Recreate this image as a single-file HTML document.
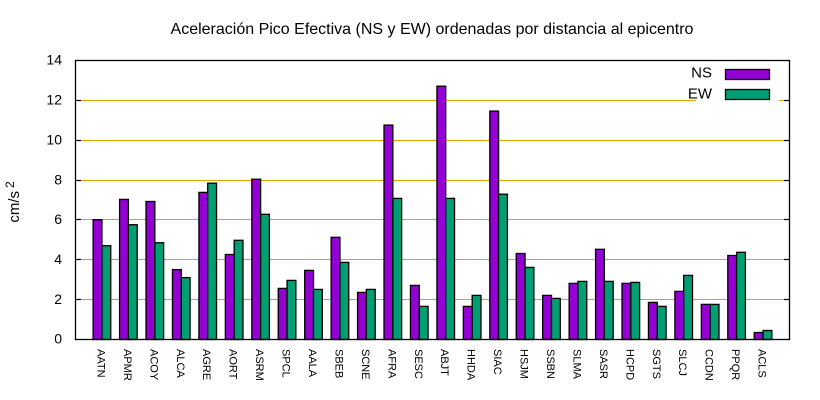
<!DOCTYPE html>
<html>
<head>
<meta charset="utf-8">
<style>
  html, body { margin: 0; padding: 0; background: #ffffff; }
  svg { display: block; }
  text { font-family: "Liberation Sans", Arial, sans-serif; fill: #000; }
</style>
</head>
<body>
<svg width="820" height="400" viewBox="0 0 820 400" xmlns="http://www.w3.org/2000/svg">
  <rect x="0" y="0" width="820" height="400" fill="#ffffff"/>

  <!-- Title -->
  <text x="432" y="34" font-size="16" text-anchor="middle">Aceleración Pico Efectiva (NS y EW) ordenadas por distancia al epicentro</text>

  <!-- Gridlines -->
  <g stroke="#e69f00" stroke-width="1">
    <line x1="75.5" y1="299.5" x2="789.5" y2="299.5"/>
    <line x1="75.5" y1="259.5" x2="789.5" y2="259.5"/>
    <line x1="75.5" y1="219.5" x2="789.5" y2="219.5"/>
    <line x1="75.5" y1="180.5" x2="789.5" y2="180.5"/>
    <line x1="75.5" y1="140.5" x2="789.5" y2="140.5"/>
    <line x1="75.5" y1="100.5" x2="789.5" y2="100.5"/>
  </g>

  <!-- Bars -->
  <g stroke="#000" stroke-width="1.3">
    <!-- AATN -->
    <rect x="93.13" y="219.7" width="8.81" height="119.8" fill="#9400d3"/>
    <rect x="101.94" y="245.7" width="8.81" height="93.8" fill="#009e73"/>
    <!-- APMR -->
    <rect x="119.58" y="199.4" width="8.81" height="140.1" fill="#9400d3"/>
    <rect x="128.39" y="224.7" width="8.81" height="114.8" fill="#009e73"/>
    <!-- ACOY -->
    <rect x="146.02" y="201.5" width="8.81" height="138.0" fill="#9400d3"/>
    <rect x="154.83" y="242.7" width="8.81" height="96.8" fill="#009e73"/>
    <!-- ALCA -->
    <rect x="172.47" y="269.6" width="8.81" height="69.9" fill="#9400d3"/>
    <rect x="181.28" y="277.6" width="8.81" height="61.9" fill="#009e73"/>
    <!-- AGRE -->
    <rect x="198.91" y="192.4" width="8.81" height="147.1" fill="#9400d3"/>
    <rect x="207.72" y="183.2" width="8.81" height="156.3" fill="#009e73"/>
    <!-- AORT -->
    <rect x="225.35" y="254.5" width="8.81" height="85.0" fill="#9400d3"/>
    <rect x="234.16" y="240.3" width="8.81" height="99.2" fill="#009e73"/>
    <!-- ASRM -->
    <rect x="251.80" y="179.2" width="8.81" height="160.3" fill="#9400d3"/>
    <rect x="260.61" y="214.3" width="8.81" height="125.2" fill="#009e73"/>
    <!-- SPCL -->
    <rect x="278.24" y="288.4" width="8.81" height="51.1" fill="#9400d3"/>
    <rect x="287.05" y="280.4" width="8.81" height="59.1" fill="#009e73"/>
    <!-- AALA -->
    <rect x="304.69" y="270.4" width="8.81" height="69.1" fill="#9400d3"/>
    <rect x="313.50" y="289.4" width="8.81" height="50.1" fill="#009e73"/>
    <!-- SBEB -->
    <rect x="331.13" y="237.3" width="8.81" height="102.2" fill="#9400d3"/>
    <rect x="339.94" y="262.4" width="8.81" height="77.1" fill="#009e73"/>
    <!-- SCNE -->
    <rect x="357.57" y="292.4" width="8.81" height="47.1" fill="#9400d3"/>
    <rect x="366.38" y="289.4" width="8.81" height="50.1" fill="#009e73"/>
    <!-- AFRA -->
    <rect x="384.02" y="125.1" width="8.81" height="214.4" fill="#9400d3"/>
    <rect x="392.83" y="198.4" width="8.81" height="141.1" fill="#009e73"/>
    <!-- SESC -->
    <rect x="410.46" y="285.4" width="8.81" height="54.1" fill="#9400d3"/>
    <rect x="419.27" y="306.4" width="8.81" height="33.1" fill="#009e73"/>
    <!-- ABJT -->
    <rect x="436.91" y="86.2" width="8.81" height="253.3" fill="#9400d3"/>
    <rect x="445.72" y="198.4" width="8.81" height="141.1" fill="#009e73"/>
    <!-- HHDA -->
    <rect x="463.35" y="306.4" width="8.81" height="33.1" fill="#9400d3"/>
    <rect x="472.16" y="295.4" width="8.81" height="44.1" fill="#009e73"/>
    <!-- SIAC -->
    <rect x="489.79" y="111.1" width="8.81" height="228.4" fill="#9400d3"/>
    <rect x="498.60" y="194.2" width="8.81" height="145.3" fill="#009e73"/>
    <!-- HSJM -->
    <rect x="516.24" y="253.5" width="8.81" height="86.0" fill="#9400d3"/>
    <rect x="525.05" y="267.4" width="8.81" height="72.1" fill="#009e73"/>
    <!-- SSBN -->
    <rect x="542.68" y="295.4" width="8.81" height="44.1" fill="#9400d3"/>
    <rect x="551.49" y="298.4" width="8.81" height="41.1" fill="#009e73"/>
    <!-- SLMA -->
    <rect x="569.13" y="283.4" width="8.81" height="56.1" fill="#9400d3"/>
    <rect x="577.94" y="281.4" width="8.81" height="58.1" fill="#009e73"/>
    <!-- SASR -->
    <rect x="595.57" y="249.3" width="8.81" height="90.2" fill="#9400d3"/>
    <rect x="604.38" y="281.4" width="8.81" height="58.1" fill="#009e73"/>
    <!-- HCPD -->
    <rect x="622.01" y="283.4" width="8.81" height="56.1" fill="#9400d3"/>
    <rect x="630.82" y="282.4" width="8.81" height="57.1" fill="#009e73"/>
    <!-- SGTS -->
    <rect x="648.46" y="302.4" width="8.81" height="37.1" fill="#9400d3"/>
    <rect x="657.27" y="306.4" width="8.81" height="33.1" fill="#009e73"/>
    <!-- SLCJ -->
    <rect x="674.90" y="291.4" width="8.81" height="48.1" fill="#9400d3"/>
    <rect x="683.71" y="275.4" width="8.81" height="64.1" fill="#009e73"/>
    <!-- CCDN -->
    <rect x="701.35" y="304.4" width="8.81" height="35.1" fill="#9400d3"/>
    <rect x="710.16" y="304.4" width="8.81" height="35.1" fill="#009e73"/>
    <!-- PPQR -->
    <rect x="727.79" y="255.5" width="8.81" height="84.0" fill="#9400d3"/>
    <rect x="736.60" y="252.3" width="8.81" height="87.2" fill="#009e73"/>
    <!-- ACLS -->
    <rect x="754.24" y="332.5" width="8.81" height="7.0" fill="#9400d3"/>
    <rect x="763.05" y="330.5" width="8.81" height="9.0" fill="#009e73"/>
  </g>

  <!-- Legend background -->
  <rect x="696" y="62" width="83" height="44" fill="#ffffff"/>
  <text x="712" y="77.7" font-size="15" text-anchor="end">NS</text>
  <text x="712" y="98.3" font-size="15" text-anchor="end">EW</text>
  <rect x="725.5" y="69.5" width="44" height="10" fill="#9400d3" stroke="#000" stroke-width="1.3"/>
  <rect x="725.5" y="89.5" width="44" height="10" fill="#009e73" stroke="#000" stroke-width="1.3"/>

  <!-- Border -->
  <rect x="75.5" y="60.5" width="714" height="279" fill="none" stroke="#000" stroke-width="1.3"/>

  <!-- Y ticks left and right -->
  <g stroke="#000" stroke-width="1.2">
    <line x1="75.5" y1="299.5" x2="81" y2="299.5"/>
    <line x1="75.5" y1="259.5" x2="81" y2="259.5"/>
    <line x1="75.5" y1="219.5" x2="81" y2="219.5"/>
    <line x1="75.5" y1="180.5" x2="81" y2="180.5"/>
    <line x1="75.5" y1="140.5" x2="81" y2="140.5"/>
    <line x1="75.5" y1="100.5" x2="81" y2="100.5"/>
    <line x1="784" y1="299.5" x2="789.5" y2="299.5"/>
    <line x1="784" y1="259.5" x2="789.5" y2="259.5"/>
    <line x1="784" y1="219.5" x2="789.5" y2="219.5"/>
    <line x1="784" y1="180.5" x2="789.5" y2="180.5"/>
    <line x1="784" y1="140.5" x2="789.5" y2="140.5"/>
    <line x1="784" y1="100.5" x2="789.5" y2="100.5"/>
  </g>

  <!-- Y tick labels -->
  <g font-size="14" text-anchor="end">
    <text x="62" y="343.5">0</text>
    <text x="62" y="304">2</text>
    <text x="62" y="264">4</text>
    <text x="62" y="224">6</text>
    <text x="62" y="184.5">8</text>
    <text x="62" y="144.5">10</text>
    <text x="62" y="104.5">12</text>
    <text x="62" y="64.5">14</text>
  </g>

  <!-- Y axis label -->
  <text transform="translate(19,202) rotate(-90)" font-size="15" text-anchor="middle">cm/s<tspan dx="3" dy="-5" font-size="12">2</tspan></text>

  <!-- X tick labels (rotated) -->
  <g font-size="11">
    <text transform="translate(97.44,349) rotate(90)">AATN</text>
    <text transform="translate(123.89,349) rotate(90)">APMR</text>
    <text transform="translate(150.33,349) rotate(90)">ACOY</text>
    <text transform="translate(176.78,349) rotate(90)">ALCA</text>
    <text transform="translate(203.22,349) rotate(90)">AGRE</text>
    <text transform="translate(229.66,349) rotate(90)">AORT</text>
    <text transform="translate(256.11,349) rotate(90)">ASRM</text>
    <text transform="translate(282.55,349) rotate(90)">SPCL</text>
    <text transform="translate(309.00,349) rotate(90)">AALA</text>
    <text transform="translate(335.44,349) rotate(90)">SBEB</text>
    <text transform="translate(361.88,349) rotate(90)">SCNE</text>
    <text transform="translate(388.33,349) rotate(90)">AFRA</text>
    <text transform="translate(414.77,349) rotate(90)">SESC</text>
    <text transform="translate(441.22,349) rotate(90)">ABJT</text>
    <text transform="translate(467.66,349) rotate(90)">HHDA</text>
    <text transform="translate(494.10,349) rotate(90)">SIAC</text>
    <text transform="translate(520.55,349) rotate(90)">HSJM</text>
    <text transform="translate(546.99,349) rotate(90)">SSBN</text>
    <text transform="translate(573.44,349) rotate(90)">SLMA</text>
    <text transform="translate(599.88,349) rotate(90)">SASR</text>
    <text transform="translate(626.32,349) rotate(90)">HCPD</text>
    <text transform="translate(652.77,349) rotate(90)">SGTS</text>
    <text transform="translate(679.21,349) rotate(90)">SLCJ</text>
    <text transform="translate(705.66,349) rotate(90)">CCDN</text>
    <text transform="translate(732.10,349) rotate(90)">PPQR</text>
    <text transform="translate(758.55,349) rotate(90)">ACLS</text>
  </g>
</svg>
</body>
</html>
